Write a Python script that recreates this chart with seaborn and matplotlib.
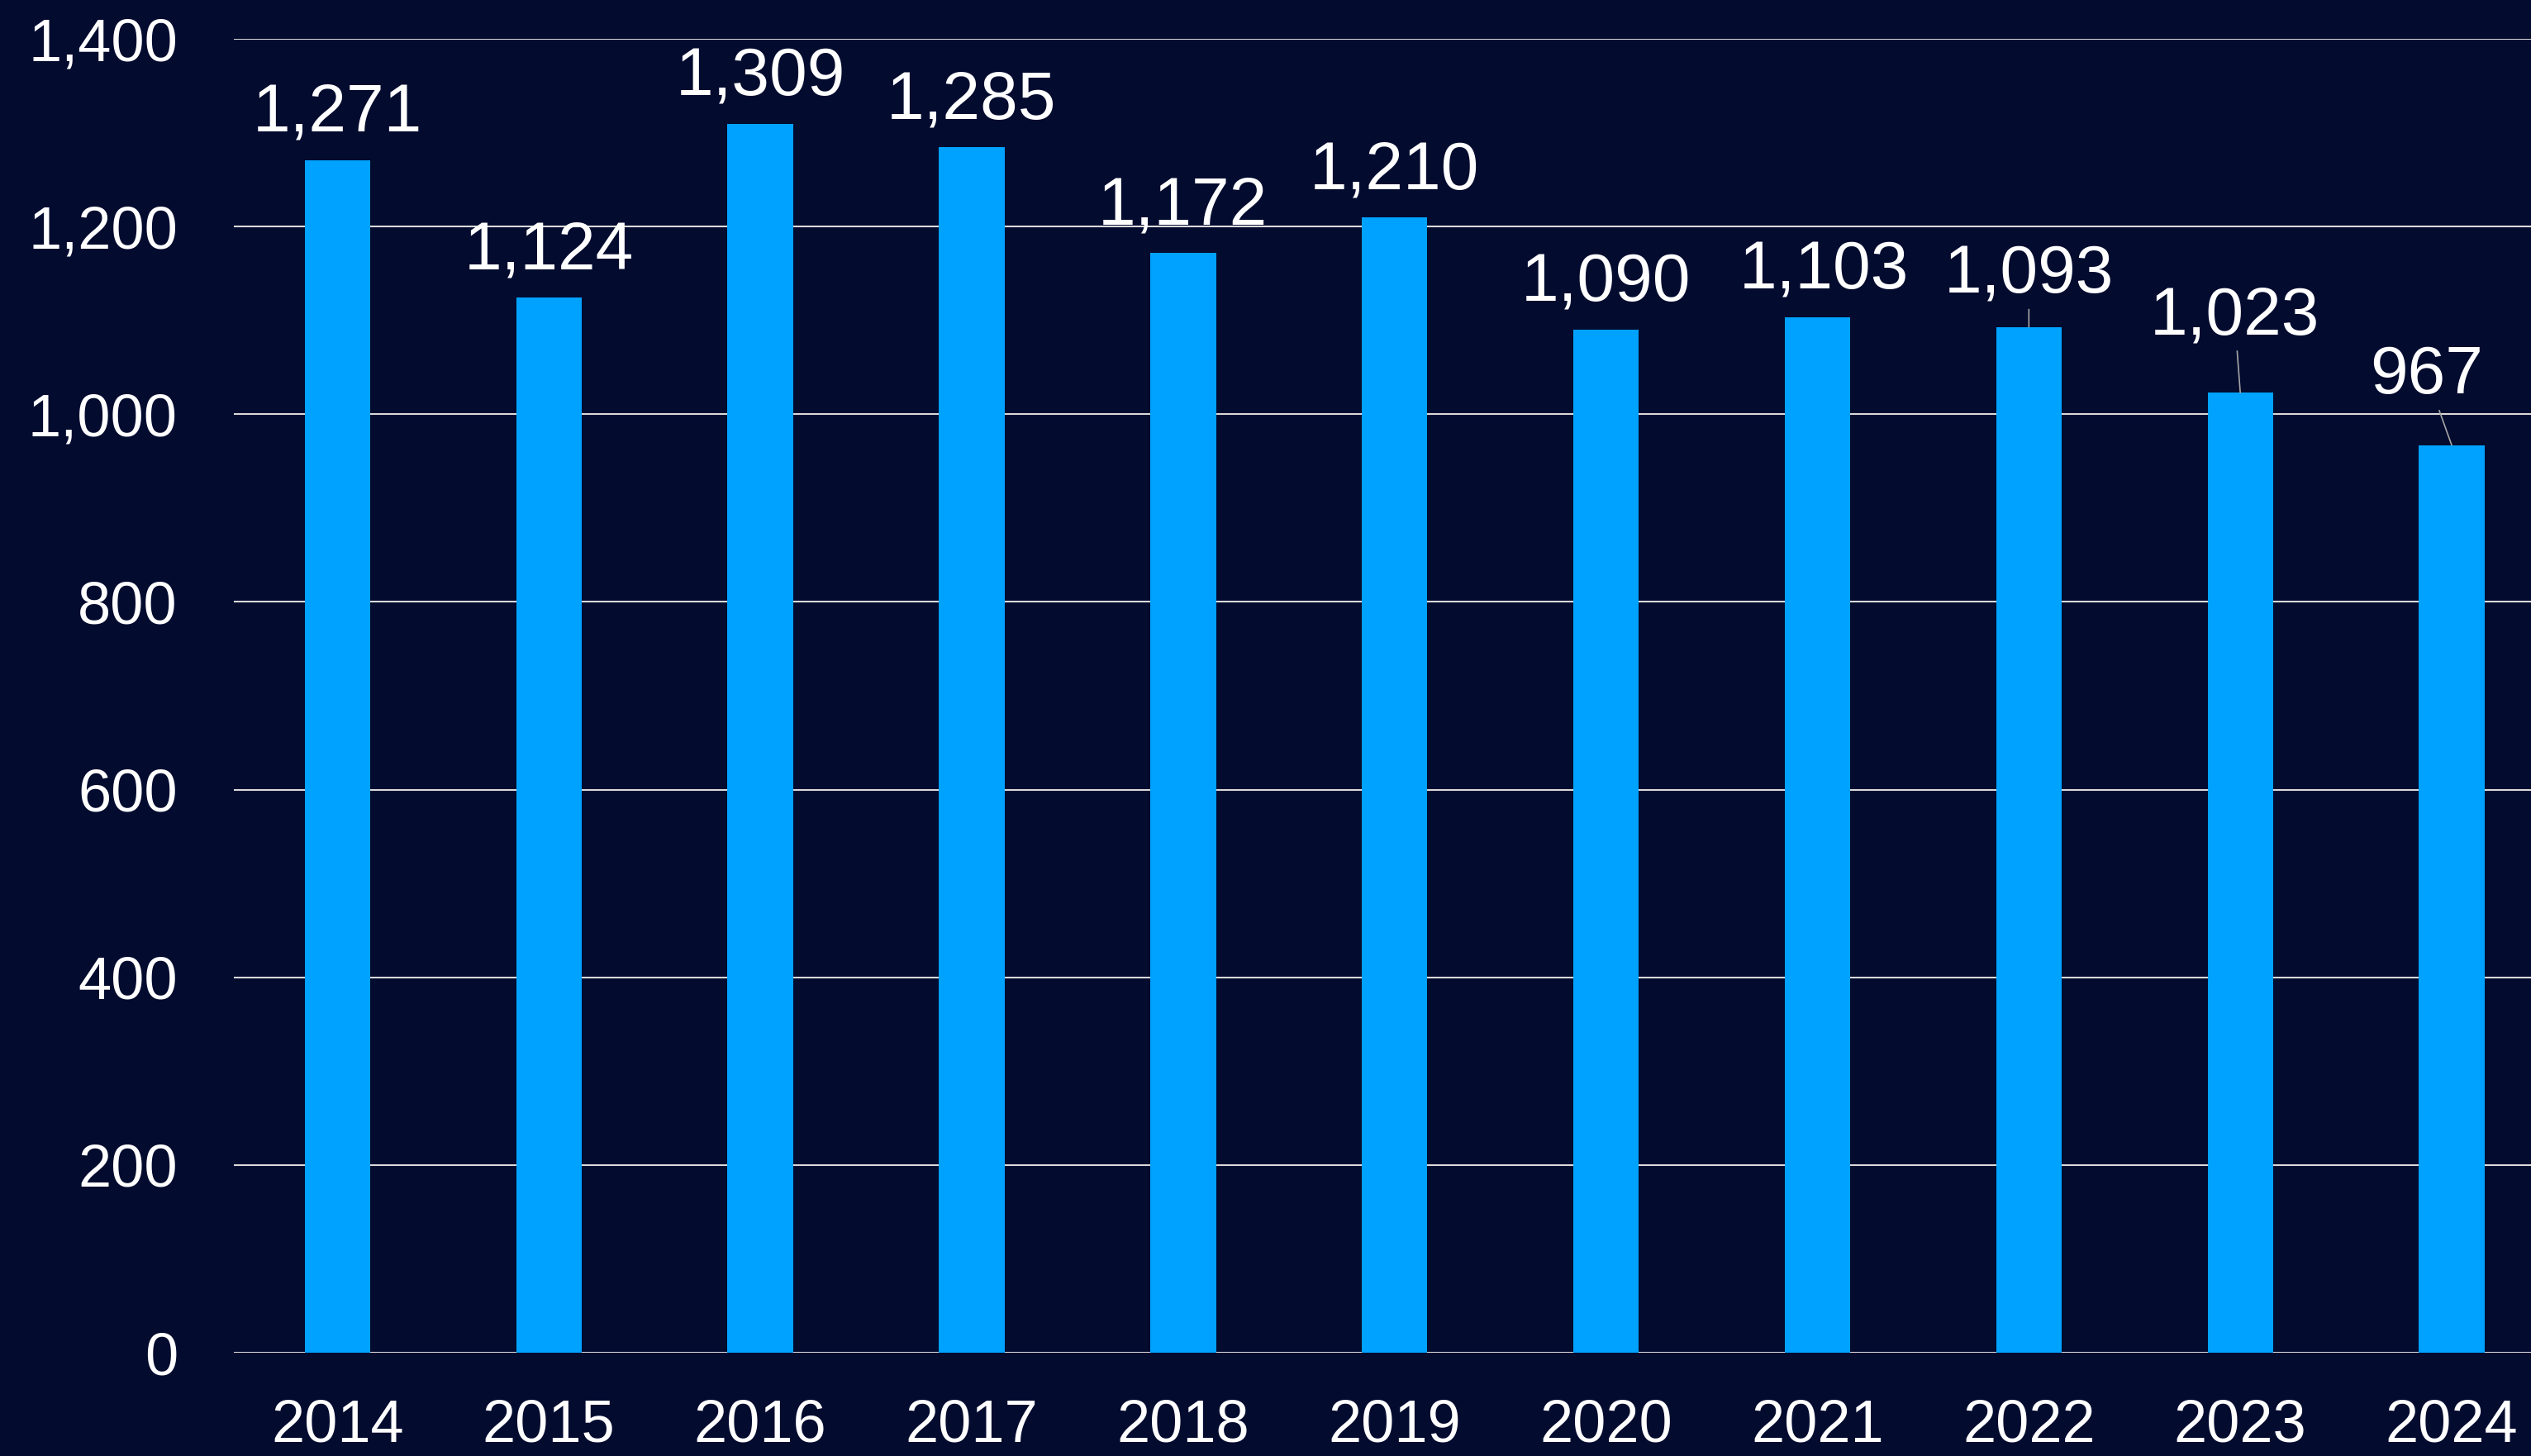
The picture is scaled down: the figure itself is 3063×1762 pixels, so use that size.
import matplotlib
matplotlib.use('Agg')
import matplotlib.pyplot as plt
from matplotlib.ticker import StrMethodFormatter
import pandas as pd
import seaborn as sns

years = ['2014', '2015', '2016', '2017', '2018', '2019', '2020', '2021', '2022', '2023', '2024']
counts = [1271, 1124, 1309, 1285, 1172, 1210, 1090, 1103, 1093, 1023, 967]

# label nudges in points, and which labels get a leader line
label_dx = [0, 0, 0, 0, 0, 0, 0, 5.6, 0, -5, -21.6]
label_dy = [40, 40, 40, 40, 40, 40, 40, 40, 45, 66, 60]
leader = [False] * 8 + [True, True, True]

bg = '#030B2F'
bar_color = '#00A2FF'
grid_color = '#D9D9D9'

sns.set_theme(style='white')
plt.rcParams['font.family'] = ['Liberation Sans', 'DejaVu Sans']

df = pd.DataFrame({'year': years, 'count': counts})

W, H = 3063, 1762
fig = plt.figure(figsize=(W / 100, H / 100), dpi=100, facecolor=bg)
ax = fig.add_axes([283 / W, 1 - 1637 / H, 1 - 283 / W, (1637 - 47) / H])
ax.set_facecolor(bg)

sns.barplot(data=df, x='year', y='count', color=bar_color, saturation=1,
            width=0.31, linewidth=0, ax=ax, zorder=3)

ax.set_ylim(0, 1400)
ax.set_xlim(-0.49, 10.375)
ax.set_yticks(range(0, 1401, 200))
ax.yaxis.set_major_formatter(StrMethodFormatter('{x:,.0f}'))
ax.yaxis.grid(True, color=grid_color, linewidth=1.5)
ax.set_axisbelow(True)
for s in ax.spines.values():
    s.set_visible(False)
ax.set_xlabel('')
ax.set_ylabel('')
ax.tick_params(axis='both', length=0, labelsize=52, labelcolor='white')
ax.tick_params(axis='y', pad=49)
ax.tick_params(axis='x', pad=40)

for i, v in enumerate(counts):
    arrow = None
    if leader[i]:
        arrow = dict(arrowstyle='-', color='#A6A6A6', lw=1.2, shrinkA=0, shrinkB=0)
    ax.annotate(f'{v:,}', xy=(i, v), xytext=(label_dx[i], label_dy[i]),
                textcoords='offset points', ha='center', va='center',
                fontsize=59, color='white', arrowprops=arrow, zorder=4)

fig.savefig('out.png', dpi=100, facecolor=bg)
